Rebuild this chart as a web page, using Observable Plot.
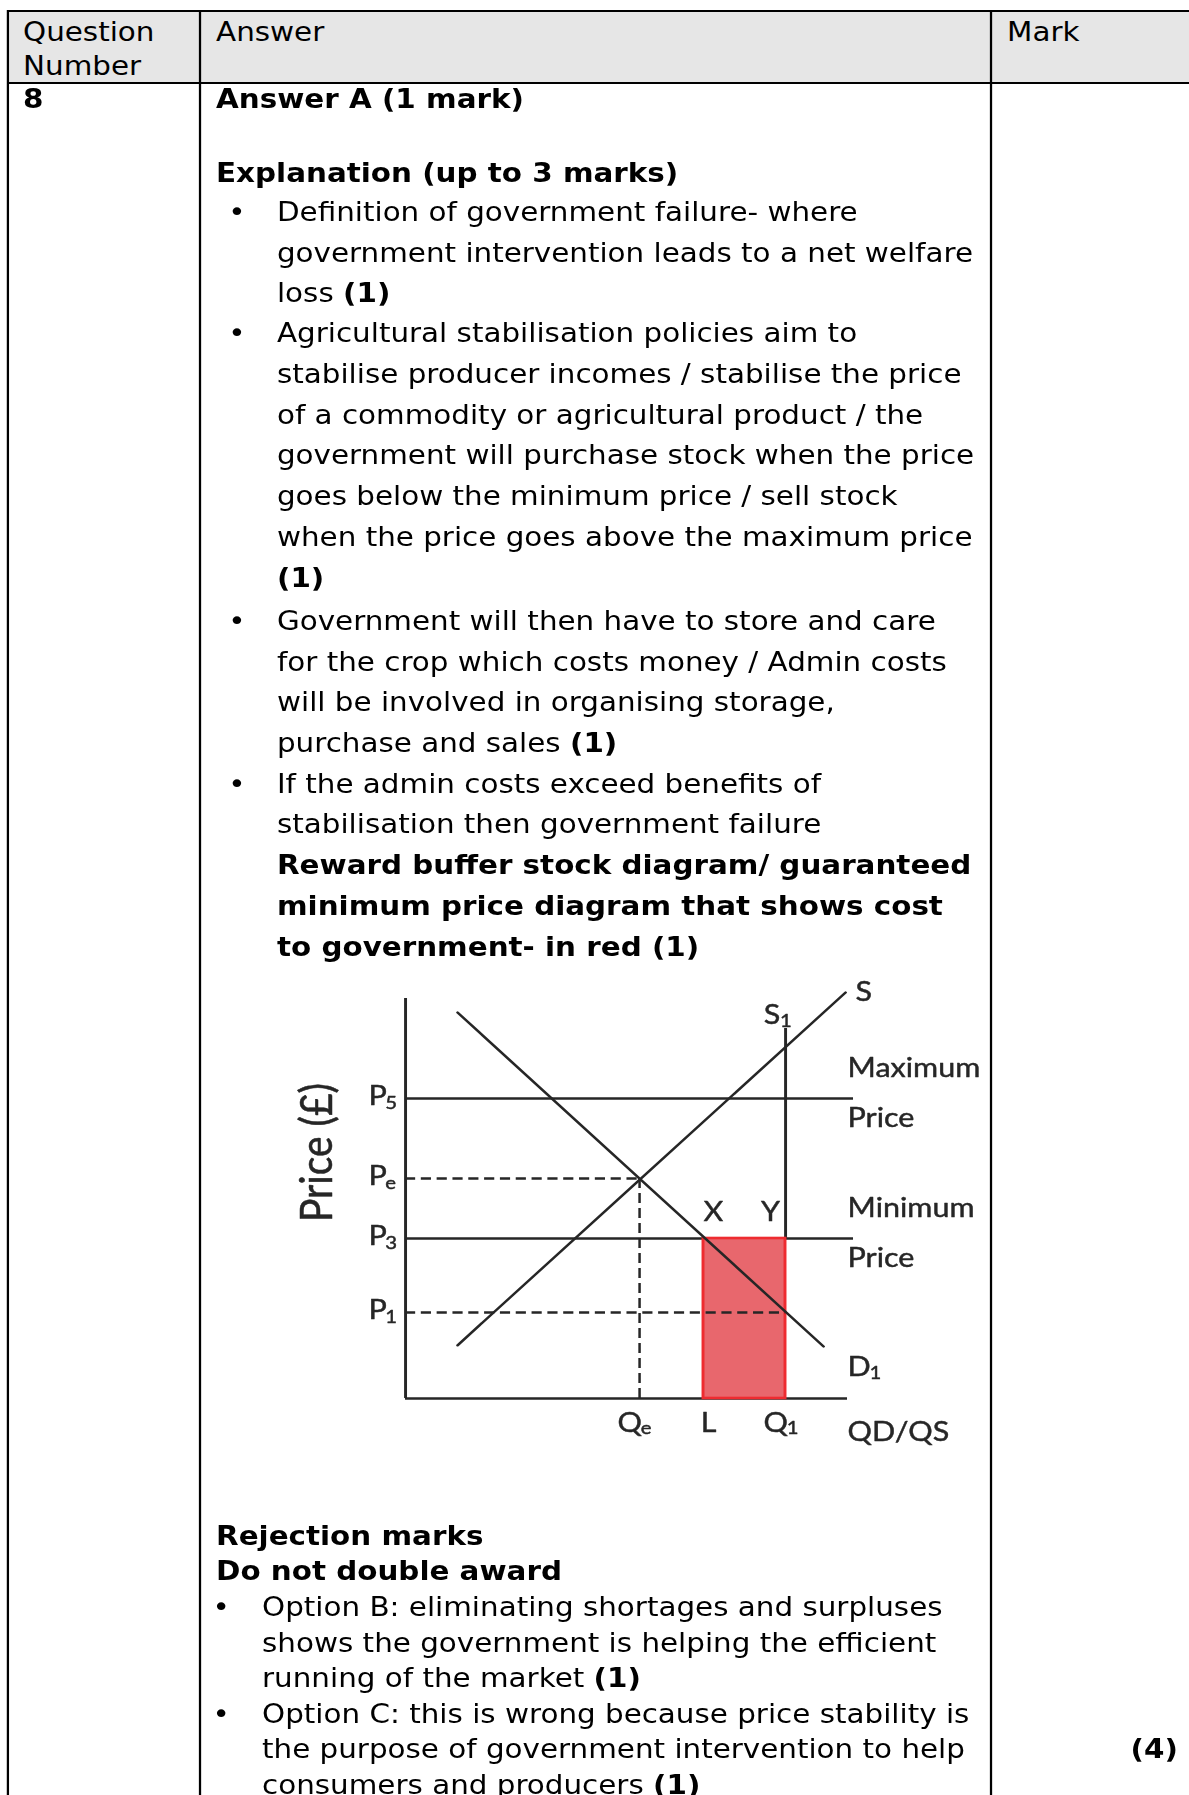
<!DOCTYPE html>
<html>
<head>
<meta charset="utf-8">
<script src="https://cdn.jsdelivr.net/npm/d3@7"></script>
<script src="https://cdn.jsdelivr.net/npm/@observablehq/plot@0.6"></script>
<style>
  html, body { margin: 0; padding: 0; background: #fff; overflow: hidden; }
  #page {
    position: absolute; left: 0; top: 0; width: 1060px; height: 1795px;
    transform: scaleX(1.13); transform-origin: 0 0;
    font-family: "DejaVu Sans", Verdana, sans-serif; font-size: 26px; color: #000;
  }
  .ln { position: absolute; white-space: nowrap; line-height: 26px; }
  .hl { position: absolute; background: #000; height: 2px; }
  .vl { position: absolute; background: #000; width: 2px; }
  #hdr { position: absolute; background: #e6e6e6; }
  #diagram { position: absolute; left: 200px; top: 955px; }
</style>
</head>
<body>
<div id="page">
  <div id="hdr" style="left:8px; top:12px; width:1060px; height:70px;"></div>
  <div class="hl" style="left:7px; top:10px; width:1060px;"></div>
  <div class="hl" style="left:7px; top:82px; width:1060px;"></div>
  <div class="vl" style="left:6px; top:10px; height:1800px;"></div>
  <div class="vl" style="left:175.5px; top:10px; height:1800px;"></div>
  <div class="vl" style="left:875.5px; top:10px; height:1800px;"></div>
  <div id="text"></div>
  <div id="diagram"></div>
</div>
<script>
// ---- Diagram values ----
const P5 = 7.5, Pe = 5.5, P3 = 4.0, P1 = 2.15;      // price levels
const Qe = 5.85, L = 7.45, Q1 = 9.5;                 // quantity levels
const priceLevels = [
  {label: "P", sub: "5", value: P5},
  {label: "P", sub: "e", value: Pe},
  {label: "P", sub: "3", value: P3},
  {label: "P", sub: "1", value: P1}
];
const subQuantities = [
  {label: "Q", sub: "e", value: Qe},
  {label: "Q", sub: "1", value: Q1}
];
const plainQuantities = [{label: "L", value: L}];
const supplyCurve = [{q: 1.3, p: 1.33}, {q: 11.0, p: 10.15}];
const demandCurve = [{q: 1.3, p: 9.65}, {q: 10.45, p: 1.3}];
const s1Top = 9.25;
const axisTop = 10, axisRight = 11.05, controlEnd = 11.2;
const costArea = [{x1: L, x2: Q1, y1: 0, y2: P3}];
const boundLabels = [
  {top: "Maximum", bottom: "Price", value: P5},
  {top: "Minimum", bottom: "Price", value: P3}
];

// ---- Page text ----
const X1 = 20.4, X2 = 191.2, XB = 202, XT = 245.1, XB2 = 188, XT2 = 231.9, X3 = 891.2;
const lines = [
  [X1, 41, "Question"], [X1, 75, "Number"], [X2, 41, "Answer"], [X3, 41, "Mark"],
  [X1, 108, "<b>8</b>"], [X2, 108, "<b>Answer A (1 mark)</b>"],
  [X2, 182, "<b>Explanation (up to 3 marks)</b>"],
  [XB, 221, "•"], [XT, 221, "Definition of government failure- where"],
  [XT, 262, "government intervention leads to a net welfare"],
  [XT, 302, "loss <b>(1)</b>"],
  [XB, 342, "•"], [XT, 342, "Agricultural stabilisation policies aim to"],
  [XT, 383, "stabilise producer incomes / stabilise the price"],
  [XT, 424, "of a commodity or agricultural product / the"],
  [XT, 464, "government will purchase stock when the price"],
  [XT, 505, "goes below the minimum price / sell stock"],
  [XT, 546, "when the price goes above the maximum price"],
  [XT, 587, "<b>(1)</b>"],
  [XB, 630, "•"], [XT, 630, "Government will then have to store and care"],
  [XT, 671, "for the crop which costs money / Admin costs"],
  [XT, 711, "will be involved in organising storage,"],
  [XT, 752, "purchase and sales <b>(1)</b>"],
  [XB, 793, "•"], [XT, 793, "If the admin costs exceed benefits of"],
  [XT, 833, "stabilisation then government failure"],
  [XT, 874, "<b>Reward buffer stock diagram/ guaranteed</b>"],
  [XT, 915, "<b>minimum price diagram that shows cost</b>"],
  [XT, 956, "<b>to government- in red (1)</b>"],
  [X2, 1545, "<b>Rejection marks</b>"],
  [X2, 1580, "<b>Do not double award</b>"],
  [XB2, 1616, "•"], [XT2, 1616, "Option B: eliminating shortages and surpluses"],
  [XT2, 1651.5, "shows the government is helping the efficient"],
  [XT2, 1687, "running of the market <b>(1)</b>"],
  [XB2, 1722.5, "•"], [XT2, 1722.5, "Option C: this is wrong because price stability is"],
  [XT2, 1758, "the purpose of government intervention to help"],
  [XT2, 1793.5, "consumers and producers <b>(1)</b>"],
  [1000.5, 1758, "<b>(4)</b>"]
];
const textHost = document.getElementById("text");
for (const [x, base, html] of lines) {
  const d = document.createElement("div");
  d.className = "ln";
  d.style.left = x + "px";
  d.style.top = (base - 22) + "px";
  d.innerHTML = html;
  textHost.appendChild(d);
}

// ---- Diagram ----
const ink = "#262626";
const font = "Lato, 'Open Sans', sans-serif";
const fs = 27, fsSub = 18;
const lw = 2.6;
const dashH = "9,5", dashV = "10,5";
const txt = {fill: ink, stroke: ink, strokeWidth: 0.45};

const chart = Plot.plot({
  width: 660, height: 500,
  marginLeft: 158.4, marginRight: 112.2, marginTop: 43, marginBottom: 57,
  x: {domain: [0, 11], axis: null},
  y: {domain: [0, 10], axis: null},
  style: {overflow: "visible", background: "transparent", fontFamily: font},
  marks: [
    // axes
    Plot.ruleX([0], {y1: 0, y2: axisTop, stroke: ink, strokeWidth: lw}),
    Plot.ruleY([0], {x1: 0, x2: axisRight, stroke: ink, strokeWidth: lw}),
    // maximum and minimum price lines
    Plot.ruleY(boundLabels, {y: "value", x1: 0, x2: controlEnd, stroke: ink, strokeWidth: lw}),
    // S1 vertical supply
    Plot.ruleX([Q1], {y1: P3, y2: s1Top, stroke: ink, strokeWidth: lw}),
    // cost to government (red)
    Plot.rect(costArea, {x1: "x1", x2: "x2", y1: "y1", y2: "y2", fill: "#e8676d", stroke: "#ee2b30", strokeWidth: lw}),
    // supply and demand
    Plot.line(supplyCurve, {x: "q", y: "p", stroke: ink, strokeWidth: 2.4}),
    Plot.line(demandCurve, {x: "q", y: "p", stroke: ink, strokeWidth: 2.4}),
    // dashed guides
    Plot.ruleY([{p: Pe, q: Qe}], {y: "p", x1: 0, x2: "q", stroke: ink, strokeWidth: 2.4, strokeDasharray: dashH}),
    Plot.ruleX([{p: Pe, q: Qe}], {x: "q", y1: 0, y2: "p", stroke: ink, strokeWidth: 2.2, strokeDasharray: dashV}),
    Plot.ruleY([{p: P1, q: Q1}], {y: "p", x1: 0, x2: "q", stroke: ink, strokeWidth: 2.4, strokeDasharray: dashH}),
    // price labels
    Plot.text(priceLevels, {x: 0, y: "value", text: "label", dx: -32.7, dy: -2, textAnchor: "start", fontSize: fs, ...txt}),
    Plot.text(priceLevels, {x: 0, y: "value", text: "sub", dx: -18, dy: 5, textAnchor: "start", fontSize: fsSub, ...txt}),
    Plot.text(["Price (£)"], {x: 0, y: 6.15, text: d => d, dx: -78, rotate: -90, fontSize: 39, ...txt}),
    // quantity labels
    Plot.text(subQuantities, {x: "value", y: 0, text: "label", dx: 2, dy: 25, textAnchor: "end", fontSize: fs, ...txt}),
    Plot.text(subQuantities, {x: "value", y: 0, text: "sub", dx: 1, dy: 30, textAnchor: "start", fontSize: fsSub, ...txt}),
    Plot.text(plainQuantities, {x: "value", y: 0, text: "label", dx: 4.4, dy: 25, fontSize: fs, ...txt}),
    Plot.text(["QD/QS"], {x: axisRight, y: 0, text: d => d, dy: 34, textAnchor: "start", fontSize: fs, ...txt}),
    // X and Y
    Plot.text(["X"], {x: L, y: P3, text: d => d, dx: 8.8, dy: -26, fontSize: fs, ...txt}),
    Plot.text(["Y"], {x: Q1, y: P3, text: d => d, dx: -13.3, dy: -26, fontSize: fs, ...txt}),
    // supply labels
    Plot.text(["S"], {x: supplyCurve[1].q, y: supplyCurve[1].p, text: d => d, dx: 8.8, dy: 0, textAnchor: "start", fontSize: fs, ...txt}),
    Plot.text(["S"], {x: Q1, y: s1Top, text: d => d, dx: -12, dy: -13, fontSize: fs, ...txt}),
    Plot.text(["1"], {x: Q1, y: s1Top, text: d => d, dx: -5, dy: -7, textAnchor: "start", fontSize: fsSub, ...txt}),
    // demand label
    Plot.text(["D"], {x: axisRight, y: demandCurve[1].p, text: d => d, dy: 21, textAnchor: "start", fontSize: fs, ...txt}),
    Plot.text(["1"], {x: axisRight, y: demandCurve[1].p, text: d => d, dx: 19.5, dy: 27, textAnchor: "start", fontSize: fsSub, ...txt}),
    // maximum / minimum price labels
    Plot.text(boundLabels, {x: axisRight, y: "value", text: "top", dy: -30, textAnchor: "start", fontSize: fs, ...txt}),
    Plot.text(boundLabels, {x: axisRight, y: "value", text: "bottom", dy: 19.5, textAnchor: "start", fontSize: fs, ...txt})
  ]
});
document.getElementById("diagram").appendChild(chart);
</script>
</body>
</html>
